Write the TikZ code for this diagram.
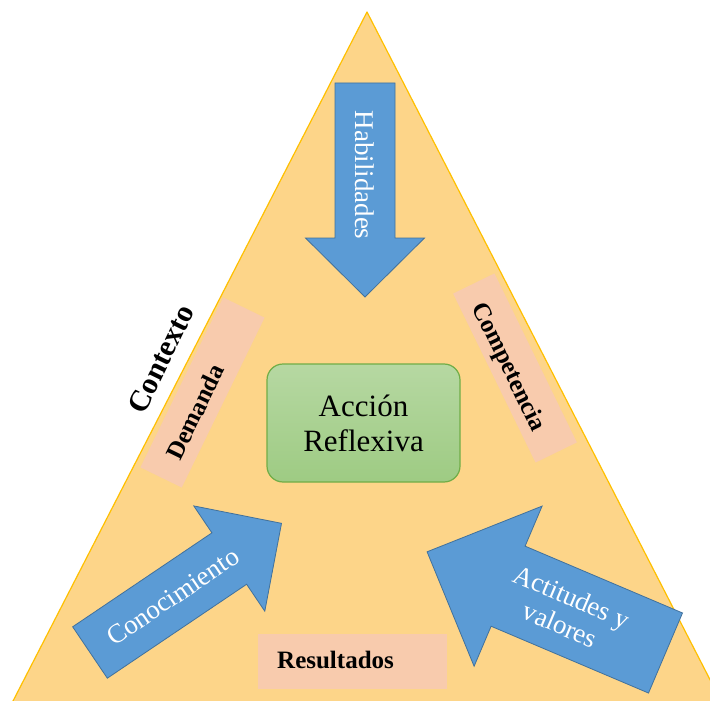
\documentclass[tikz,border=0pt]{standalone}
\usepackage{fontspec}
\setmainfont{Liberation Serif}
\definecolor{tri}{RGB}{253,213,137}
\definecolor{triedge}{RGB}{255,192,0}
\definecolor{arrowfill}{RGB}{91,155,213}
\definecolor{arrowedge}{RGB}{65,113,156}
\definecolor{salmon}{RGB}{248,203,173}
\definecolor{greentop}{RGB}{182,216,162}
\definecolor{greenbot}{RGB}{158,203,131}
\definecolor{greenedge}{RGB}{112,173,71}
\begin{document}
\begin{tikzpicture}[x=1pt,y=-1pt,
  blockarrow/.style={fill=arrowfill, draw=arrowedge, line width=0.8pt, line join=miter},
  arrowtext/.style={text=white, font=\fontsize{27}{30}\selectfont, align=center, inner sep=0pt},
  tagbox/.style={fill=salmon, inner sep=0pt, draw=none},
  tagtext/.style={font=\fontsize{25}{28}\selectfont\bfseries, inner sep=0pt},
  centerbox/.style={draw=greenedge, line width=1.2pt, top color=greentop, bottom color=greenbot,
    rounded corners=16pt, minimum width=193pt, minimum height=118pt, align=center,
    font=\fontsize{31}{35}\selectfont, inner sep=0pt},
]
\clip (0,0) rectangle (710,701);
\fill[white] (0,0) rectangle (710,701);
% triangle
\coordinate (apex) at (367,12);
\coordinate (bl) at (12,703);
\coordinate (br) at (722,703);
\filldraw[fill=tri, draw=triedge, line width=1.2pt, line join=round] (apex) -- (bl) -- (br) -- cycle;

% centre box
\node[centerbox] (accion) at (363.5,423) {Acci\'on\\Reflexiva};

% salmon tags
\node[tagbox, rotate=64, minimum width=189pt, minimum height=46pt] (demandabox) at (202.5,392.5) {};
\node[tagtext, rotate=64] (demanda) at (195,412) {Demanda};
\node[tagbox, rotate=-64, minimum width=188pt, minimum height=46pt] (competenciabox) at (515,368) {};
\node[tagtext, rotate=-64] (competencia) at (508,367.5) {Competencia};
\node[tagbox, minimum width=189pt, minimum height=55pt] (resultadosbox) at (352.5,661.5) {};
\node[tagtext, anchor=base west] (resultados) at (277,668) {Resultados};

% context label
\node[font=\fontsize{30}{34}\selectfont\bfseries, rotate=64, inner sep=0pt] (contexto) at (161,359) {Contexto};

% Habilidades arrow (down)
\begin{scope}[shift={(365,83)}, rotate=-90]
  \draw[blockarrow] (0,-30) -- (155,-30) -- (155,-59.5) -- (214,0) -- (155,59.5) -- (155,30) -- (0,30) -- cycle;
  \node[arrowtext, rotate=-90] (habilidades) at (92,0) {Habilidades};
\end{scope}

% Conocimiento arrow (up right)
\begin{scope}[shift={(90,652.5)}, rotate=34]
  \draw[blockarrow] (0,-31) -- (168,-31) -- (168,-63.5) -- (231,0) -- (168,63.5) -- (168,31) -- (0,31) -- cycle;
  \node[arrowtext, rotate=34] (conocimiento) at (100,0) {Conocimiento};
\end{scope}

% Actitudes arrow (up left)
\begin{scope}[shift={(665.5,653)}, rotate=157]
  \draw[blockarrow] (0,-43.5) -- (171,-43.5) -- (171,-87) -- (259,0) -- (171,87) -- (171,43.5) -- (0,43.5) -- cycle;
  \node[arrowtext, rotate=-23] (actitudes) at (108,0) {Actitudes y\\valores};
\end{scope}
\end{tikzpicture}
\end{document}
